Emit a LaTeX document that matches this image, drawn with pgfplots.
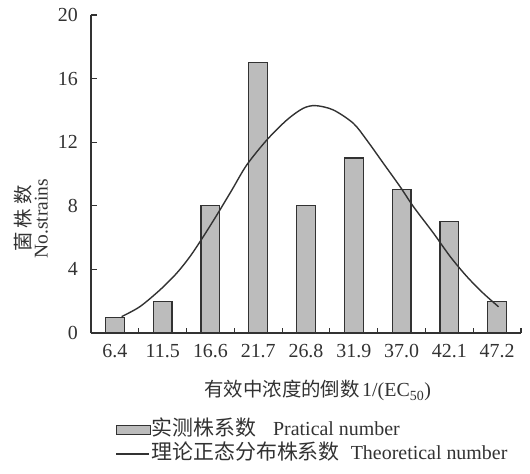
\documentclass[border=0pt]{standalone}
\usepackage{fontspec}
\setmainfont{Liberation Serif}
\newfontfamily\cjk{Noto Sans CJK SC}
\usepackage{pgfplots}
\pgfplotsset{compat=1.18}
\definecolor{barfill}{RGB}{188,188,188}
\definecolor{ink}{RGB}{50,50,50}
\begin{document}
\begin{tikzpicture}
\useasboundingbox (-91bp,-141bp) rectangle (439bp,333bp);
\begin{axis}[
  scale only axis, width=430bp, height=318bp,
  xmin=-0.5, xmax=8.5, ymin=0, ymax=20,
  axis x line=bottom, axis y line=left,
  axis line style={-, line width=1.2bp, draw=ink},
  xtick={0,...,8},
  xticklabels={6.4,11.5,16.6,21.7,26.8,31.9,37.0,42.1,47.2},
  major x tick style={draw=none},
  minor xtick={-0.5,0.5,...,8.5},
  ytick={0,4,...,20},
  tick align=inside,
  major tick length=6bp, minor tick length=5bp,
  tick style={line width=1.1bp, draw=ink},
  /pgf/number format/assume math mode=true,
  ticklabel style={font=\fontsize{20}{20}\selectfont, text=ink},
  yticklabel style={anchor=east, inner sep=0pt, xshift=-13bp},
  xticklabel style={anchor=north, inner sep=0pt, yshift=-11bp},
  xlabel={{\cjk\fontsize{19.5}{20}\selectfont 有效中浓度的倒数} \fontsize{20}{20}\selectfont 1/(EC\textsubscript{50})},
  xlabel style={at={(axis description cs:0.527,-0.182)}, anchor=center, text=ink},
  ylabel={{\cjk 菌\hspace{4bp}株\hspace{4bp}数}\\No.strains},
  ylabel style={at={(axis description cs:-0.14,0.36)}, anchor=center, align=center, text=ink,
    font=\fontsize{19.5}{17.5}\selectfont},
  legend style={at={(axis description cs:0.056,-0.343)}, anchor=west, draw=none, fill=none,
    inner sep=0pt, row sep=2bp, column sep=0pt,
    nodes={inner sep=1bp, text height=15bp, text depth=5bp, anchor=west, text=ink}},
  legend cell align=left,
]
\addplot[ybar, bar width=18.7bp, fill=barfill, draw=ink, line width=1.2bp,
  legend image code/.code={\draw[fill=barfill, draw=ink, line width=1bp] (0bp,-4.5bp) rectangle (34bp,4.5bp);}]
  coordinates {(0,1) (1,2) (2,8) (3,17) (4,8) (5,11) (6,9) (7,7) (8,2)};
\addlegendentry{{\cjk\fontsize{21}{22}\selectfont 实测株系数}\hspace{17bp}\fontsize{20}{22}\selectfont Pratical number}
\addplot[smooth, no markers, line width=1.4bp, color=ink,
  legend image code/.code={\draw[line width=1.5bp, ink] (0bp,0bp) -- (33bp,0bp);}]
  coordinates {
  (0.14,1.03) (0.52,1.65) (0.94,2.70) (1.29,3.75) (1.57,4.80) (1.85,6.06)
  (2.15,7.50) (2.45,9.00) (2.76,10.57) (3.18,12.14) (3.60,13.40) (3.94,14.13)
  (4.20,14.30) (4.57,14.03) (4.99,13.19) (5.27,12.14) (5.62,10.67) (5.97,9.20)
  (6.25,7.94) (6.67,6.27) (7.02,4.80) (7.37,3.54) (7.71,2.50) (8.03,1.65)};
\addlegendentry{{\cjk\fontsize{21}{22}\selectfont 理论正态分布株系数}\hspace{11bp}\fontsize{20}{22}\selectfont Theoretical number}
\end{axis}
\end{tikzpicture}
\end{document}
